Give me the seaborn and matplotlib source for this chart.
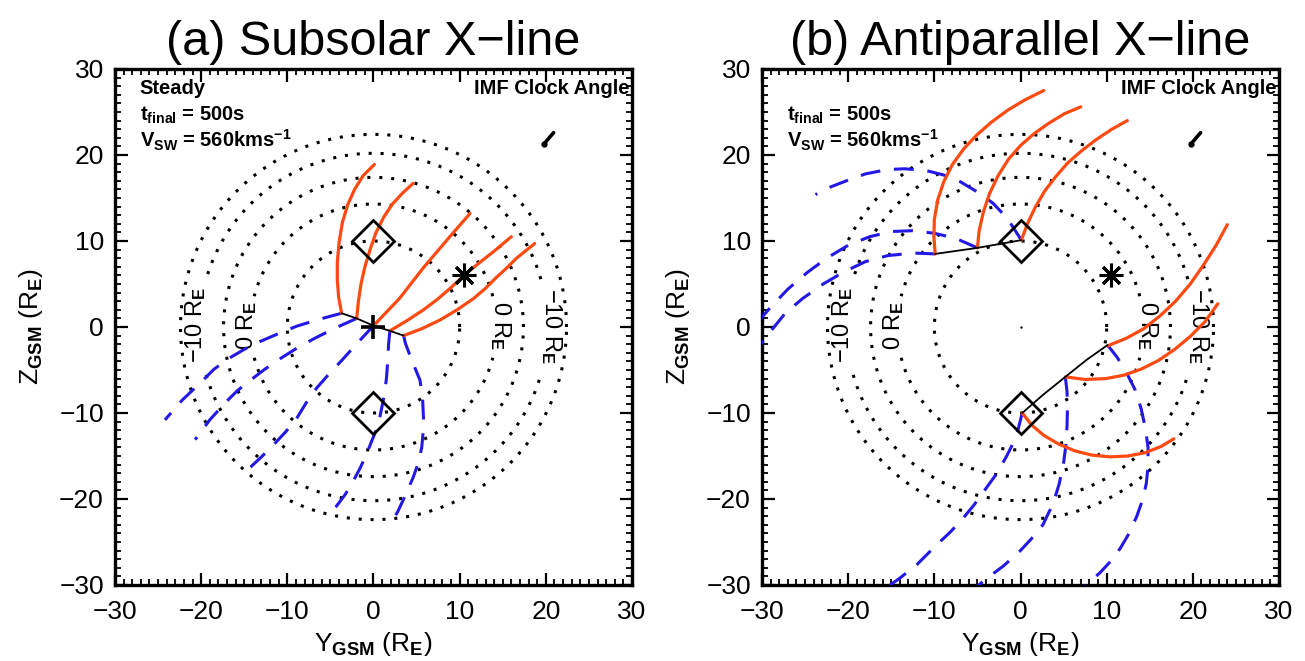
import numpy as np
import matplotlib
matplotlib.use("Agg")
import matplotlib.pyplot as plt
from matplotlib.ticker import MultipleLocator
import seaborn as sns

# ------------------------------------------------------------------ data
ticks = [-30, -20, -10, 0, 10, 20, 30]
titles = ["(a) Subsolar X\u2212line", "(b) Antiparallel X\u2212line"]

circle_radii = [10.0, 14.3, 17.4, 20.2, 22.4]
label_radii = [14.3, 20.2]
label_texts = ["0 R$_{\\mathbf{E}}$", "\u221210 R$_{\\mathbf{E}}$"]

diamond_y = [0.0, 0.0]
diamond_z = [10.0, -10.0]
star_y = [10.5]
star_z = [6.0]
clock_y = [19.8, 20.9]
clock_z = [21.3, 22.6]

# panel (a): subsolar X-line
a_xline_y = [-3.7, -1.95, 0.0, 1.9, 3.5]
a_xline_z = [1.6, 1.0, 0.15, -0.45, -1.0]

a_red1_y = [-3.7, -4.05, -4.2, -4.2, -4.0, -3.6, -3.0, -2.2, -1.2, 0.1]
a_red1_z = [1.6, 3.5, 5.5, 7.5, 9.8, 12.2, 14.2, 16.0, 17.6, 18.9]
a_red2_y = [-1.95, -1.75, -1.45, -1.0, -0.4, 0.3, 1.2, 2.2, 3.4, 4.6]
a_red2_z = [1.0, 3.0, 5.0, 7.0, 9.0, 11.0, 12.8, 14.3, 15.6, 16.7]
a_red3_y = [0.0, 3.0, 5.8, 8.6, 11.2]
a_red3_z = [0.15, 3.3, 6.9, 10.2, 13.2]
a_red4_y = [1.9, 3.9, 5.8, 7.4, 8.9, 10.5, 12.2, 14.1, 16.0]
a_red4_z = [-0.45, 0.75, 2.0, 3.2, 4.5, 6.0, 7.4, 8.9, 10.5]
a_red5_y = [3.5, 5.6, 7.7, 9.7, 11.6, 13.0, 14.3, 15.5, 16.6, 18.7]
a_red5_z = [-1.0, -0.2, 0.8, 2.0, 3.3, 4.5, 5.8, 6.9, 8.0, 9.7]

a_blue1_y = [-3.7, -6.3, -8.9, -11.1, -13.2, -15.0, -16.7, -18.5, -20.1, -22.2, -24.2]
a_blue1_z = [1.6, 0.9, 0.1, -0.8, -1.7, -2.6, -3.6, -4.9, -6.5, -8.5, -10.8]
a_blue2_y = [-1.95, -4.4, -6.8, -8.8, -10.7, -12.6, -14.3, -15.8, -17.1, -19.0, -20.7]
a_blue2_z = [1.0, -0.1, -1.3, -2.4, -3.6, -4.9, -6.2, -7.4, -8.7, -10.8, -13.1]
a_blue3_y = [0.0, -1.9, -3.7, -5.2, -6.6, -7.8, -8.9, -10.2, -11.6, -13.0, -14.5]
a_blue3_z = [0.15, -1.9, -3.9, -5.5, -7.1, -8.8, -10.6, -12.2, -13.7, -15.1, -16.5]
a_blue4_y = [1.9, 1.75, 1.65, 1.5, 1.2, 0.75, 0.3, -0.3, -0.9, -1.6, -2.4, -3.3, -4.5]
a_blue4_z = [-0.45, -2.0, -4.0, -6.0, -8.2, -10.4, -12.0, -13.5, -15.0, -16.5, -18.0, -19.5, -21.1]
a_blue5_y = [3.5, 3.7, 4.5, 5.4, 5.7, 5.8, 5.75, 5.6, 5.2, 4.6, 3.5, 2.8, 1.9]
a_blue5_z = [-1.0, -1.9, -4.0, -6.2, -8.4, -10.6, -12.3, -14.0, -15.8, -17.5, -20.0, -21.5, -23.0]

# panel (b): antiparallel X-line
b_xline1_y = [-9.9, -5.0, 0.1]
b_xline1_z = [8.5, 9.2, 10.1]
b_xline2_y = [0.2, 2.6, 5.2, 7.7, 10.1]
b_xline2_z = [-10.0, -7.9, -5.8, -3.8, -2.1]

b_red1_y = [-9.9, -10.05, -10.0, -9.6, -8.9, -7.9, -6.6, -5.1, -3.4, -1.5, 0.5, 2.7]
b_red1_z = [8.5, 10.5, 12.5, 14.8, 16.9, 18.9, 20.7, 22.3, 23.8, 25.2, 26.4, 27.5]
b_red2_y = [-5.0, -4.8, -4.3, -3.6, -2.6, -1.4, 0.0, 1.6, 3.3, 5.1, 7.0]
b_red2_z = [9.2, 11.2, 13.4, 15.5, 17.6, 19.5, 21.1, 22.5, 23.7, 24.8, 25.6]
b_red3_y = [0.1, 0.8, 1.7, 2.8, 4.1, 5.5, 7.1, 8.8, 10.6, 12.4]
b_red3_z = [10.1, 12.0, 13.9, 15.8, 17.5, 19.1, 20.5, 21.8, 23.0, 24.0]
b_red4_y = [10.1, 12.3, 14.3, 16.2, 18.0, 19.7, 21.3, 22.7, 24.0]
b_red4_z = [-2.2, -1.3, -0.2, 1.3, 3.0, 5.0, 7.3, 9.5, 11.9]
b_red5_y = [5.2, 7.5, 9.9, 12.0, 14.0, 16.0, 17.9, 19.7, 21.4, 22.9]
b_red5_z = [-5.8, -6.1, -6.0, -5.6, -4.9, -3.9, -2.6, -1.1, 0.6, 2.7]
b_red6_y = [0.2, 1.3, 2.7, 4.4, 6.3, 8.3, 10.4, 12.5, 14.5, 16.3, 17.8]
b_red6_z = [-10.0, -11.4, -12.6, -13.6, -14.4, -14.9, -15.1, -15.0, -14.6, -13.9, -13.0]

b_blue1_y = [-9.9, -12.5, -15.4, -18.0, -20.5, -22.9, -25.3, -27.3, -29.0, -30.5]
b_blue1_z = [8.5, 8.6, 8.3, 7.6, 6.4, 5.0, 3.3, 1.6, -0.5, -2.5]
b_blue2_y = [-5.0, -7.5, -10.0, -12.5, -15.0, -17.5, -20.0, -22.5, -24.8, -27.0, -29.0, -31.0]
b_blue2_z = [9.2, 10.3, 10.9, 11.2, 11.1, 10.5, 9.5, 8.0, 6.3, 4.4, 2.3, 0.0]
b_blue3_y = [0.1, -1.5, -3.2, -5.0, -7.0, -9.0, -11.0, -13.5, -15.5, -18.0, -20.2, -22.0, -23.8]
b_blue3_z = [10.1, 12.6, 14.4, 15.7, 16.9, 17.7, 18.2, 18.4, 18.3, 17.8, 17.0, 16.3, 15.4]
b_blue4_y = [0.2, -0.3, -0.9, -1.6, -2.8, -4.1, -5.4, -6.8, -8.2, -9.7, -12.0, -14.0, -15.7]
b_blue4_z = [-10.0, -12.0, -13.6, -15.0, -17.1, -18.9, -20.7, -22.4, -23.9, -25.3, -27.6, -29.2, -30.4]
b_blue5_y = [5.2, 5.4, 5.45, 5.4, 5.3, 5.0, 4.5, 3.8, 2.6, 1.2, -0.2, -2.0, -4.0, -5.2]
b_blue5_z = [-5.8, -7.5, -9.5, -11.5, -13.5, -15.8, -18.2, -20.5, -23.0, -24.7, -26.2, -27.8, -29.3, -30.3]
b_blue6_y = [10.1, 11.2, 12.3, 13.3, 14.0, 14.5, 14.8, 14.8, 14.6, 14.2, 13.5, 12.6, 11.6, 10.5, 9.2, 7.8, 7.2]
b_blue6_z = [-2.1, -3.5, -5.3, -7.3, -9.5, -11.8, -14.0, -16.2, -18.2, -20.0, -22.0, -24.0, -25.7, -27.2, -28.6, -29.8, -30.4]

# ------------------------------------------------------------------ style
RED = "#FF4A12"
BLUE = "#2418E6"
DOT = (0, (1, 2.9))
DASH = (0, (6.5, 4.5))

sns.set_theme(style="ticks")
plt.rcParams["font.family"] = ["Liberation Sans", "DejaVu Sans"]
plt.rcParams["mathtext.fontset"] = "custom"
plt.rcParams["mathtext.rm"] = "Liberation Sans"
plt.rcParams["mathtext.bf"] = "Liberation Sans:bold"
plt.rcParams["mathtext.it"] = "Liberation Sans:italic"
for k in ["text.color", "axes.labelcolor", "xtick.color", "ytick.color", "axes.edgecolor"]:
    plt.rcParams[k] = "black"

fig = plt.figure(figsize=(13.05, 6.61), dpi=100)
axA = fig.add_axes([115 / 1305, 76 / 661, 517 / 1305, 516 / 661])
axB = fig.add_axes([762 / 1305, 76 / 661, 517 / 1305, 516 / 661])


def line(ax, y, z, color, lw, ls="-", zorder=3):
    sns.lineplot(x=y, y=z, sort=False, estimator=None, color=color, lw=lw,
                 linestyle=ls, ax=ax, legend=False, zorder=zorder)


def draw_circles(ax):
    theta = np.linspace(0, 2 * np.pi, 1441)
    for r in circle_radii:
        keep = np.ones_like(theta, dtype=bool)
        if r in label_radii:
            half = (3.6 if r < 17 else 5.6) / r
            for c in (0.0, np.pi, 2 * np.pi):
                keep &= np.abs(theta - c) > half
        idx = np.where(keep)[0]
        breaks = np.where(np.diff(idx) > 1)[0]
        for s in np.split(idx, breaks + 1):
            if len(s) < 2:
                continue
            ax.plot(r * np.cos(theta[s]), r * np.sin(theta[s]), color="black",
                    lw=2.2, linestyle=DOT, zorder=1)
    for r, t in zip(label_radii, label_texts):
        ax.text(-(r + 0.4), 0.2, t, rotation=90, ha="center", va="center",
                fontsize=17, zorder=2)
        ax.text(r + 0.4, 0.1, t, rotation=-90, ha="center", va="center",
                fontsize=17, zorder=2)


def style_axes(ax, title):
    ax.set_xlim(-30, 30)
    ax.set_ylim(-30, 30)
    ax.set_xticks(ticks)
    ax.set_yticks(ticks)
    ax.xaxis.set_minor_locator(MultipleLocator(1))
    ax.yaxis.set_minor_locator(MultipleLocator(1))
    ax.tick_params(which="both", direction="in", top=True, right=True)
    ax.tick_params(which="major", length=9, width=1.6, labelsize=19)
    ax.tick_params(axis="x", which="major", pad=11)
    ax.tick_params(axis="y", which="major", pad=8)
    ax.tick_params(which="minor", length=4.5, width=1.3)
    for sp in ax.spines.values():
        sp.set_linewidth(2.4)
        sp.set_color("black")
    ax.set_xlabel("Y$_{\\mathbf{GSM}}$ (R$_{\\mathbf{E}}$)", fontsize=19, labelpad=4)
    ax.set_ylabel("Z$_{\\mathbf{GSM}}$ (R$_{\\mathbf{E}}$)", fontsize=19, labelpad=10)
    ax.set_title(title, fontsize=35, pad=10)
    ax.text(0.995, 0.963, "IMF Clock Angle", transform=ax.transAxes, fontsize=14.5,
            fontweight="bold", ha="right", va="center")
    ax.text(0.048, 0.899, "t$_{\\mathbf{final}}$ = 500s", transform=ax.transAxes,
            fontsize=14.5, fontweight="bold", ha="left", va="baseline")
    ax.text(0.048, 0.848, "V$_{\\mathbf{SW}}$ = 560kms$^{\\mathbf{-1}}$",
            transform=ax.transAxes, fontsize=14.5, fontweight="bold", ha="left",
            va="baseline")
    ax.plot(diamond_y, diamond_z, linestyle="none", marker="D", ms=21, mfc="none",
            mec="black", mew=2.0, zorder=5)
    ax.plot(star_y, star_z, linestyle="none", marker=(8, 2, 0), ms=17,
            mec="black", mew=2.2, zorder=5)
    ax.plot(clock_y, clock_z, color="black", lw=2.6, solid_capstyle="round", zorder=5)
    ax.plot(clock_y[:1], clock_z[:1], linestyle="none", marker="o", ms=3.5,
            color="black", zorder=5)


# ------------------------------------------------------------------ panel (a)
draw_circles(axA)
for y, z in [(a_blue1_y, a_blue1_z), (a_blue2_y, a_blue2_z), (a_blue3_y, a_blue3_z),
             (a_blue4_y, a_blue4_z), (a_blue5_y, a_blue5_z)]:
    line(axA, y, z, BLUE, 2.2, DASH)
for y, z in [(a_red1_y, a_red1_z), (a_red2_y, a_red2_z), (a_red3_y, a_red3_z),
             (a_red4_y, a_red4_z), (a_red5_y, a_red5_z)]:
    line(axA, y, z, RED, 2.3, "-", zorder=4)
line(axA, a_xline_y, a_xline_z, "black", 1.3, "-", zorder=4)
axA.plot([0], [0], linestyle="none", marker="+", ms=17, mew=2.6, color="black", zorder=6)
style_axes(axA, titles[0])
axA.text(0.048, 0.963, "Steady", transform=axA.transAxes, fontsize=14.5,
         fontweight="bold", ha="left", va="center")

# ------------------------------------------------------------------ panel (b)
draw_circles(axB)
for y, z in [(b_blue1_y, b_blue1_z), (b_blue2_y, b_blue2_z), (b_blue3_y, b_blue3_z),
             (b_blue4_y, b_blue4_z), (b_blue5_y, b_blue5_z), (b_blue6_y, b_blue6_z)]:
    line(axB, y, z, BLUE, 2.2, DASH)
for y, z in [(b_red1_y, b_red1_z), (b_red2_y, b_red2_z), (b_red3_y, b_red3_z),
             (b_red4_y, b_red4_z), (b_red5_y, b_red5_z), (b_red6_y, b_red6_z)]:
    line(axB, y, z, RED, 2.3, "-", zorder=4)
line(axB, b_xline1_y, b_xline1_z, "black", 1.3, "-", zorder=4)
line(axB, b_xline2_y, b_xline2_z, "black", 1.3, "-", zorder=4)
axB.plot([0], [0], linestyle="none", marker="+", ms=2, mew=1.0, color="black", zorder=6)
style_axes(axB, titles[1])

fig.savefig("out.png", dpi=100)
